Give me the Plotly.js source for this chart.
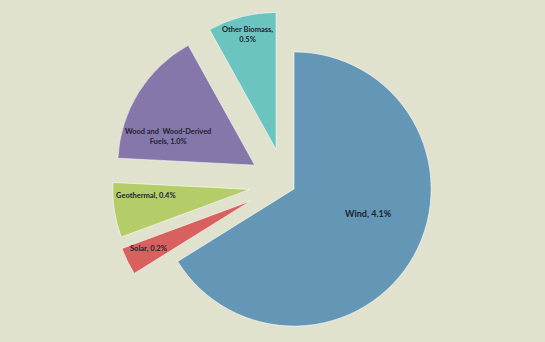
<!DOCTYPE html>
<html>
<head>
<meta charset="utf-8">
<script src="https://cdn.plot.ly/plotly-3.0.1.min.js"></script>
<style>
  html, body { margin: 0; padding: 0; background: #E0E2CE; overflow: hidden; width: 545px; height: 342px; }
  #chart { width: 545px; height: 365px; position: absolute; left: 0; top: 0; }
</style>
</head>
<body>
<div id="chart"></div>
<script>
// ---- data ----
const labels = ['Wind', 'Solar', 'Geothermal', 'Wood and Wood-Derived Fuels', 'Other Biomass'];
const values = [4.1, 0.2, 0.4, 1.0, 0.5];
const labelText = ['Wind, 4.1%', 'Solar, 0.2%', 'Geothermal, 0.4%', 'Wood and  Wood-Derived<br>Fuels, 1.0%', 'Other Biomass,<br>0.5%'];

// ---- styles / layout ----
const colors = ['#6496B6', '#D8605F', '#B4CD68', '#8577A9', '#6CC4C1'];
const pulls = [0.075, 0.28, 0.26, 0.26, 0.26];
// label anchor points in pixels (x, y) within the window
const labelPos = [[368, 213], [148, 248], [146, 195], [168, 136], [247, 34]];
const labelSize = [9, 7.5, 7.5, 7.4, 7.5];

const W = 545, H = 365;
const annotations = labelText.map((t, i) => ({
  text: t,
  x: labelPos[i][0] / W,
  y: 1 - labelPos[i][1] / H,
  xref: 'paper', yref: 'paper',
  showarrow: false,
  xanchor: 'center', yanchor: 'middle',
  font: { family: 'Lato, "Liberation Sans", sans-serif', size: labelSize[i], color: '#1E2430', weight: 'bold' }
}));

const trace = {
  type: 'pie',
  labels: labels,
  values: values,
  sort: false,
  direction: 'clockwise',
  rotation: 0,
  pull: pulls,
  textinfo: 'none',
  hoverinfo: 'label+value',
  marker: { colors: colors, line: { color: 'rgba(255,255,255,0.55)', width: 1 } },
  domain: { x: [0.201, 0.845], y: [0.01507, 0.9767] },
  showlegend: false
};

const layout = {
  width: W, height: H,
  margin: { l: 0, r: 0, t: 0, b: 0, pad: 0 },
  paper_bgcolor: '#E0E2CE',
  plot_bgcolor: '#E0E2CE',
  showlegend: false,
  annotations: annotations
};

Plotly.newPlot('chart', [trace], layout, { displayModeBar: false, staticPlot: true });
</script>
</body>
</html>
